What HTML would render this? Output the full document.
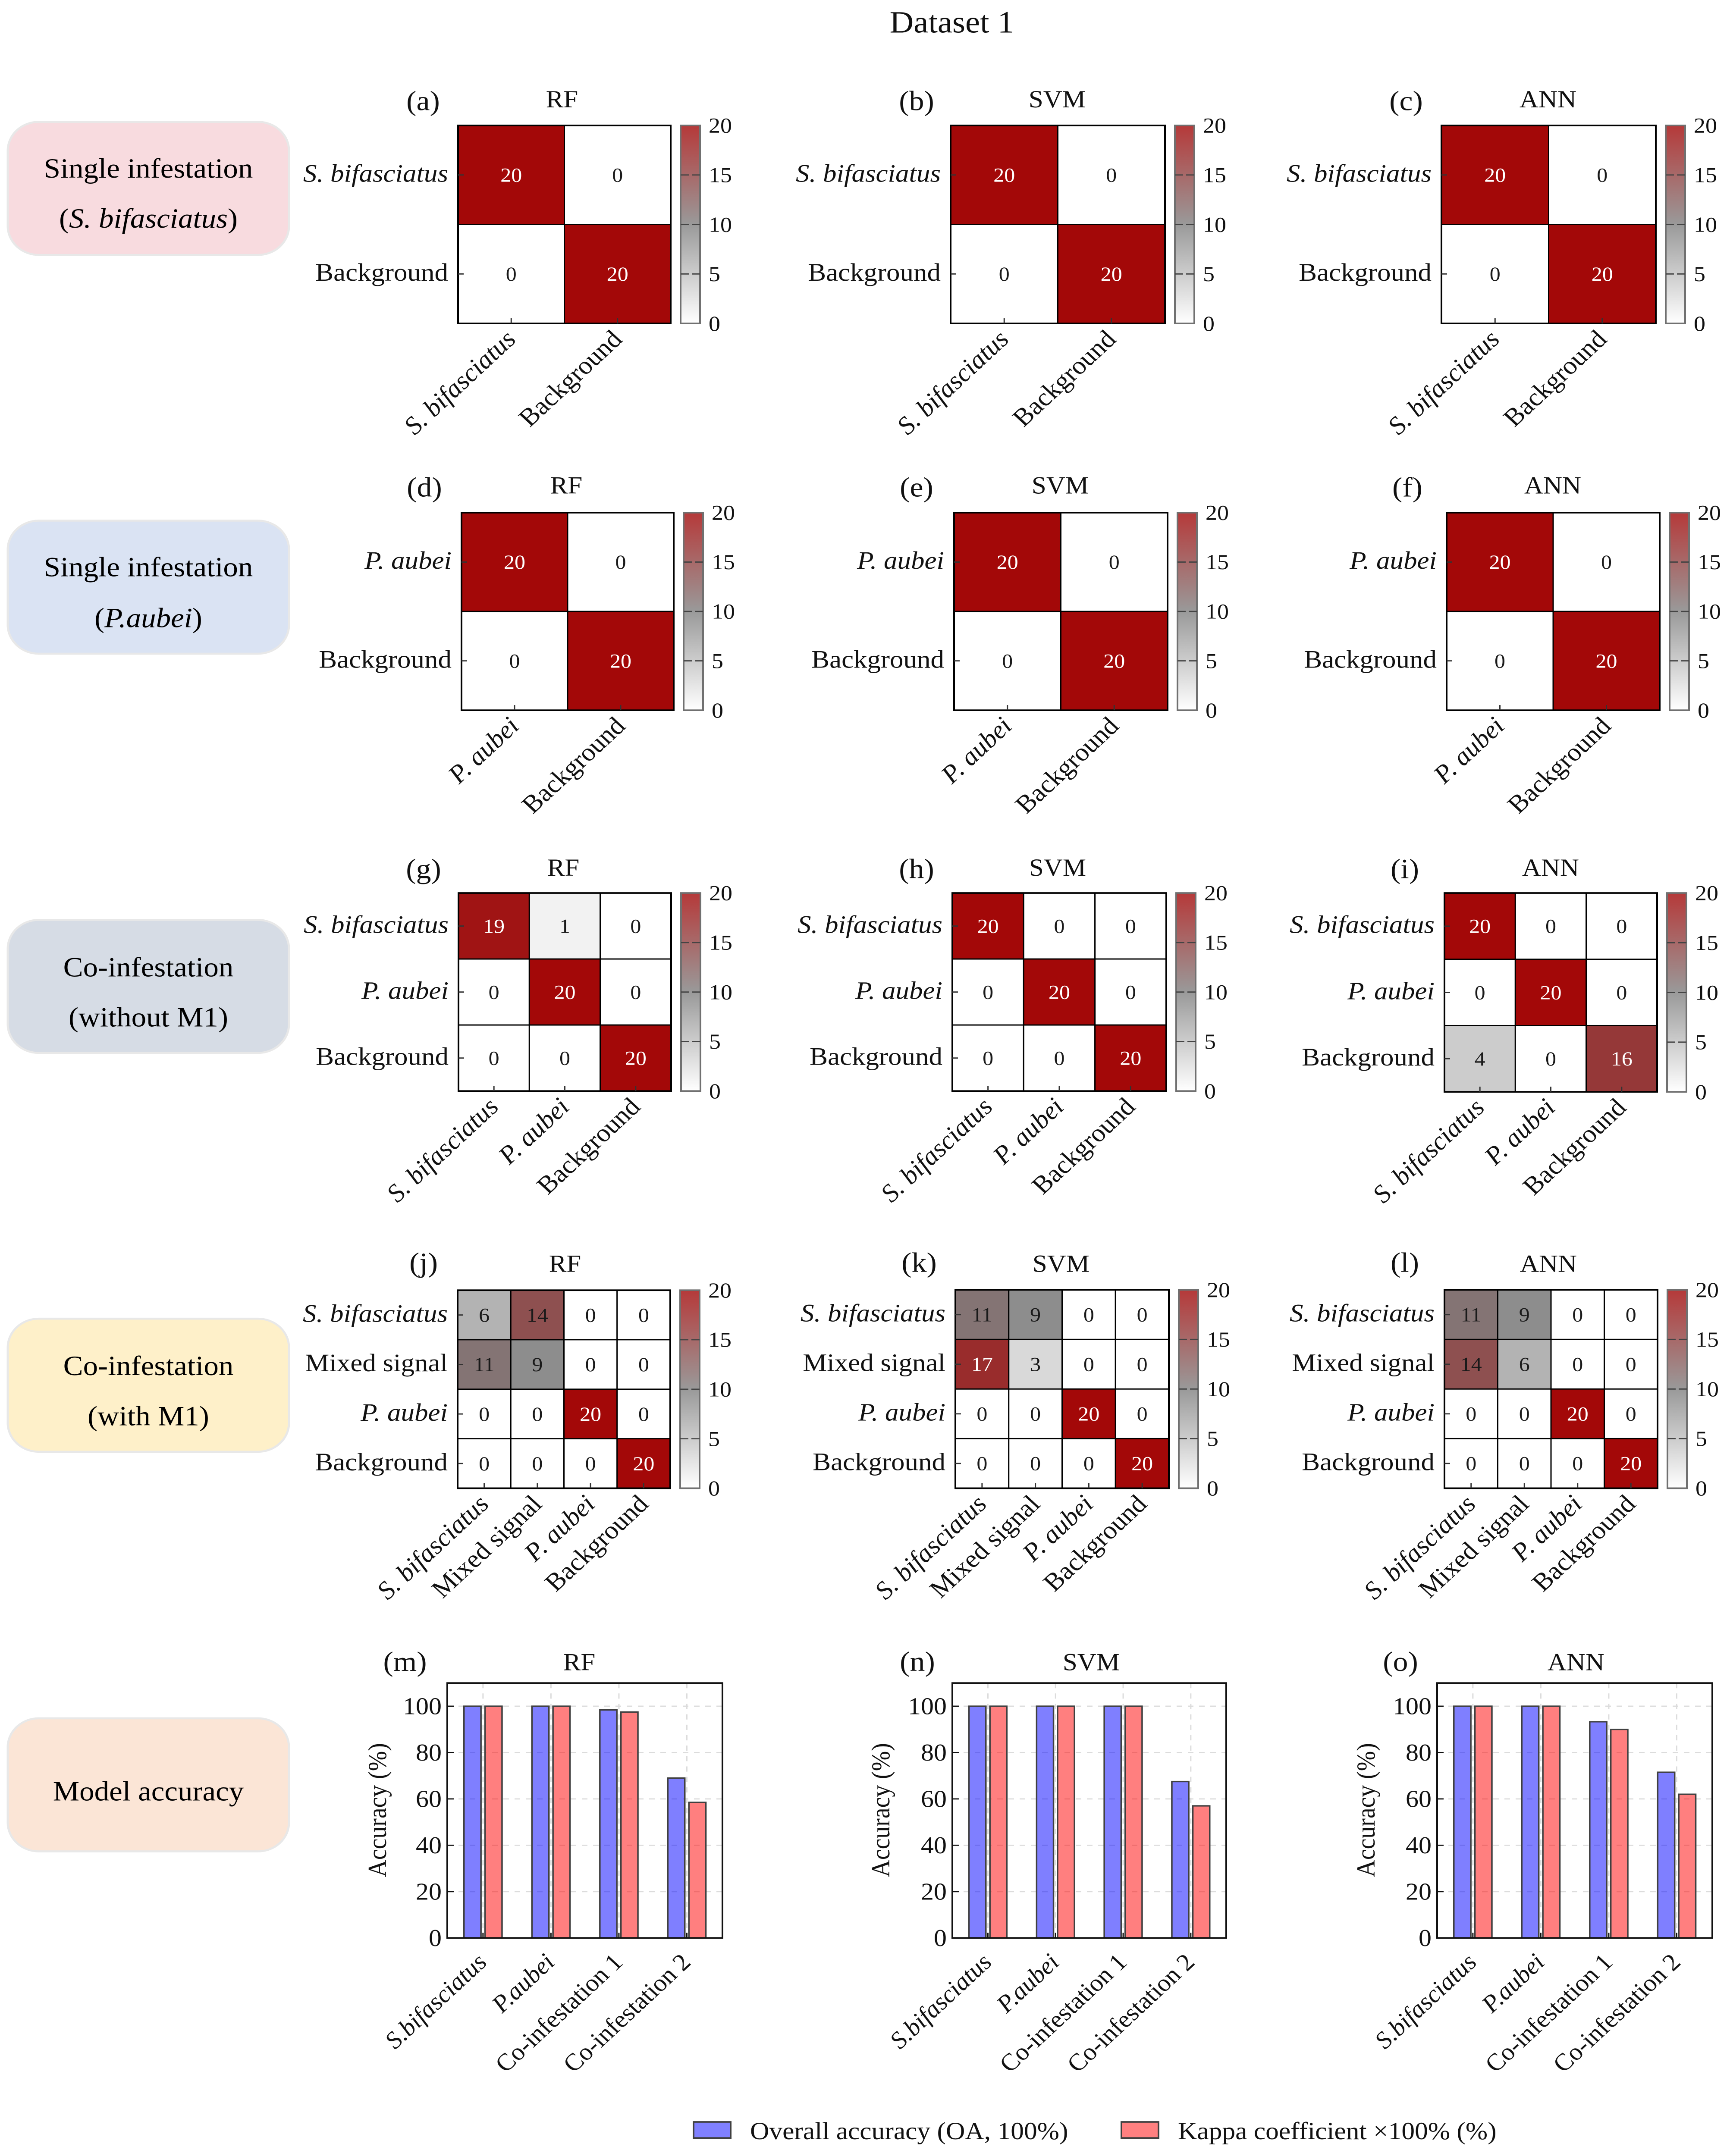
<!DOCTYPE html>
<html lang="en">
<head>
<meta charset="utf-8">
<title>Dataset 1 confusion matrices and model accuracy</title>
<style>
html,body{margin:0;padding:0;background:#fff;width:100%;height:100%;overflow:hidden;}
svg{display:block;width:100vw;height:100vh;font-family:"Liberation Serif",serif;}
.ptitle{font-size:61px;text-anchor:middle;fill:#111;}
.pletter{font-size:70px;text-anchor:middle;fill:#111;}
.pilltext{font-size:69px;text-anchor:middle;fill:#000;}
.ylab{font-size:60px;text-anchor:middle;fill:#111;}
.legtext{font-size:61.5px;fill:#111;}
</style>
</head>
<body>
<svg id="figure" xmlns="http://www.w3.org/2000/svg" viewBox="0 0 4011 5379" preserveAspectRatio="none">
<defs>
<linearGradient id="cbarGrad" x1="0" y1="0" x2="0" y2="1">
<stop offset="0" stop-color="#a30808"/>
<stop offset="0.5" stop-color="#808080"/>
<stop offset="1" stop-color="#ffffff"/>
</linearGradient>
</defs>
<rect x="0" y="0" width="4011" height="5379" fill="#fff"/>
<text x="2207" y="81" font-size="77" text-anchor="middle" fill="#111">Dataset 1</text>

<g>
<rect x="18" y="304" width="652" height="332" rx="72" fill="#f8dbdf" stroke="#e8e8e8" stroke-width="5"/>
<text class="pilltext" x="344" y="443">Single infestation</text>
<text class="pilltext" x="344" y="568">(<tspan font-style="italic">S. bifasciatus</tspan>)</text>
<rect x="18" y="1299" width="652" height="332" rx="72" fill="#dae3f3" stroke="#e8e8e8" stroke-width="5"/>
<text class="pilltext" x="344" y="1438">Single infestation</text>
<text class="pilltext" x="344" y="1565">(<tspan font-style="italic">P.aubei</tspan>)</text>
<rect x="18" y="2295" width="652" height="332" rx="72" fill="#d6dce5" stroke="#e8e8e8" stroke-width="5"/>
<text class="pilltext" x="344" y="2436">Co-infestation</text>
<text class="pilltext" x="344" y="2561">(without M1)</text>
<rect x="18" y="3290" width="652" height="332" rx="72" fill="#fef0c9" stroke="#e8e8e8" stroke-width="5"/>
<text class="pilltext" x="344" y="3431">Co-infestation</text>
<text class="pilltext" x="344" y="3556">(with M1)</text>
<rect x="18" y="4287" width="652" height="332" rx="72" fill="#fbe5d6" stroke="#e8e8e8" stroke-width="5"/>
<text class="pilltext" x="344" y="4492">Model accuracy</text>
</g>

<g>
<text class="pletter" x="981" y="275">(a)</text>
<text class="ptitle" x="1303" y="268">RF</text>
<text class="pletter" x="2125" y="275">(b)</text>
<text class="ptitle" x="2451" y="268">SVM</text>
<text class="pletter" x="3260" y="275">(c)</text>
<text class="ptitle" x="3589" y="268">ANN</text>
<text class="pletter" x="984" y="1239">(d)</text>
<text class="ptitle" x="1313" y="1231">RF</text>
<text class="pletter" x="2125" y="1239">(e)</text>
<text class="ptitle" x="2458" y="1231">SVM</text>
<text class="pletter" x="3263" y="1239">(f)</text>
<text class="ptitle" x="3600" y="1231">ANN</text>
<text class="pletter" x="982" y="2191">(g)</text>
<text class="ptitle" x="1306" y="2185">RF</text>
<text class="pletter" x="2125" y="2191">(h)</text>
<text class="ptitle" x="2452" y="2185">SVM</text>
<text class="pletter" x="3257" y="2191">(i)</text>
<text class="ptitle" x="3595" y="2185">ANN</text>
<text class="pletter" x="982" y="3173">(j)</text>
<text class="ptitle" x="1310" y="3173">RF</text>
<text class="pletter" x="2131" y="3173">(k)</text>
<text class="ptitle" x="2460" y="3173">SVM</text>
<text class="pletter" x="3257" y="3173">(l)</text>
<text class="ptitle" x="3590" y="3173">ANN</text>
<text class="pletter" x="939" y="4169">(m)</text>
<text class="ptitle" x="1343" y="4167">RF</text>
<text class="pletter" x="2127" y="4169">(n)</text>
<text class="ptitle" x="2530" y="4167">SVM</text>
<text class="pletter" x="3247" y="4169">(o)</text>
<text class="ptitle" x="3654" y="4167">ANN</text>
<text class="ylab" transform="translate(895,4516) rotate(-90)">Accuracy (%)</text>
<text class="ylab" transform="translate(2062,4516) rotate(-90)">Accuracy (%)</text>
<text class="ylab" transform="translate(3187,4516) rotate(-90)">Accuracy (%)</text>
</g>

<g id="plots"></g>

<g>
<rect x="1608" y="5294" width="86" height="40" fill="#8080ff" stroke="#404040" stroke-width="4"/>
<text class="legtext" x="1739" y="5337">Overall accuracy (OA, 100%)</text>
<rect x="2600" y="5294" width="86" height="40" fill="#ff8080" stroke="#404040" stroke-width="4"/>
<text class="legtext" x="2731" y="5337">Kappa coefficient ×100% (%)</text>
</g>
</svg>

<script>
// ---- confusion-matrix categories ----
const catsBif = ['S. bifasciatus', 'Background'];
const catsAub = ['P. aubei', 'Background'];
const catsCo = ['S. bifasciatus', 'P. aubei', 'Background'];
const catsMix = ['S. bifasciatus', 'Mixed signal', 'P. aubei', 'Background'];

// ---- confusion-matrix values ----
const matA = [[20, 0], [0, 20]];
const matB = [[20, 0], [0, 20]];
const matC = [[20, 0], [0, 20]];
const matD = [[20, 0], [0, 20]];
const matE = [[20, 0], [0, 20]];
const matF = [[20, 0], [0, 20]];
const matG = [[19, 1, 0], [0, 20, 0], [0, 0, 20]];
const matH = [[20, 0, 0], [0, 20, 0], [0, 0, 20]];
const matI = [[20, 0, 0], [0, 20, 0], [4, 0, 16]];
const matJ = [[6, 14, 0, 0], [11, 9, 0, 0], [0, 0, 20, 0], [0, 0, 0, 20]];
const matK = [[11, 9, 0, 0], [17, 3, 0, 0], [0, 0, 20, 0], [0, 0, 0, 20]];
const matL = [[11, 9, 0, 0], [14, 6, 0, 0], [0, 0, 20, 0], [0, 0, 0, 20]];

// ---- tick labels ----
const colorbarTicks = [0, 5, 10, 15, 20];
const accuracyTicks = [0, 20, 40, 60, 80, 100];
const barCats = ['S.bifasciatus', 'P.aubei', 'Co-infestation 1', 'Co-infestation 2'];

// ---- accuracy series ----
const oaRF = [100, 100, 98.4, 69];
const kappaRF = [100, 100, 97.5, 58.5];
const oaSVM = [100, 100, 100, 67.5];
const kappaSVM = [100, 100, 100, 57];
const oaANN = [100, 100, 93.3, 71.5];
const kappaANN = [100, 100, 90, 62];

// ---- panel wiring (layout kept apart from the data above) ----
const heatIds = ['a', 'b', 'c', 'd', 'e', 'f', 'g', 'h', 'i', 'j', 'k', 'l'];
const heatMats = [matA, matB, matC, matD, matE, matF, matG, matH, matI, matJ, matK, matL];
const heatCats = [catsBif, catsBif, catsBif, catsAub, catsAub, catsAub, catsCo, catsCo, catsCo, catsMix, catsMix, catsMix];
const heatFrames = [
  [1062, 1555, 313, 807], [2204, 2701, 313, 807], [3342, 3839, 313, 807],
  [1070, 1562, 1279, 1772], [2212, 2707, 1279, 1772], [3354, 3848, 1279, 1772],
  [1063, 1556, 2228, 2722], [2208, 2704, 2228, 2722], [3349, 3842, 2228, 2724],
  [1061, 1554, 3219, 3713], [2215, 2710, 3218, 3713], [3349, 3843, 3218, 3713]
];
const barIds = ['m', 'n', 'o'];
const barOA = [oaRF, oaSVM, oaANN];
const barKappa = [kappaRF, kappaSVM, kappaANN];
const barFrames = [[1037, 1675, 4199, 4835], [2208, 2843, 4199, 4835], [3332, 3970, 4199, 4835]];

const SVGNS = 'http://www.w3.org/2000/svg';
const plots = document.getElementById('plots');

function add(parent, tag, attrs, txt) {
  const el = document.createElementNS(SVGNS, tag);
  for (const k in attrs) el.setAttribute(k, attrs[k]);
  if (txt !== undefined) el.textContent = txt;
  parent.appendChild(el);
  return el;
}

function isSpecies(name) {
  return /^[SP]\./.test(name);
}

// colour scale: 0 white -> 10 grey -> 20 dark red
function cellColor(v) {
  const lo = [255, 255, 255], mid = [128, 128, 128], hi = [163, 8, 8];
  const t = Math.max(0, Math.min(1, v / 20));
  const a = t < 0.5 ? lo : mid, b = t < 0.5 ? mid : hi;
  const f = t < 0.5 ? t * 2 : (t - 0.5) * 2;
  const c = a.map((x, i) => Math.round(x + (b[i] - x) * f));
  return 'rgb(' + c.join(',') + ')';
}

function drawHeatmap(id, mat, cats, frame) {
  const [x0, x1, y0, y1] = frame;
  const n = cats.length;
  const xBand = i => x0 + (x1 - x0) * i / n;
  const yBand = i => y0 + (y1 - y0) * i / n;
  const g = add(plots, 'g', {});
  
  

  mat.forEach((row, r) => row.forEach((v, c) => {
    const cell = add(g, 'rect', {
      x: xBand(c), y: yBand(r), width: xBand(c + 1) - xBand(c), height: yBand(r + 1) - yBand(r),
      fill: cellColor(v), stroke: '#000', 'stroke-width': 3
    });
    
    
    const label = add(g, 'text', {
      x: (xBand(c) + xBand(c + 1)) / 2, y: (yBand(r) + yBand(r + 1)) / 2 + 17,
      'font-size': 50, 'text-anchor': 'middle', fill: v >= 15 ? '#fff' : '#1a1a1a'
    }, String(v));
    
    
  }));

  const border = add(g, 'rect', { x: x0, y: y0, width: x1 - x0, height: y1 - y0, fill: 'none', stroke: '#000', 'stroke-width': 4 });
  
  

  cats.forEach((name, i) => {
    const cy = (yBand(i) + yBand(i + 1)) / 2;
    const cx = (xBand(i) + xBand(i + 1)) / 2;
    const yt = add(g, 'line', { x1: x0, x2: x0 + 13, y1: cy, y2: cy, stroke: '#333', 'stroke-width': 3 });
    
    
    const xt = add(g, 'line', { x1: cx, x2: cx, y1: y1, y2: y1 - 13, stroke: '#333', 'stroke-width': 3 });
    
    

    const yl = add(g, 'text', {
      x: x0 - 23, y: cy + 17, 'font-size': 63, 'text-anchor': 'end', fill: '#111',
      'font-style': isSpecies(name) ? 'italic' : 'normal'
    }, name);
    
    

    const ax = cx + 14, ay = y1 + 43;
    const xl = add(g, 'text', {
      transform: 'translate(' + ax + ',' + ay + ') rotate(-45)', 'font-size': 63, 'text-anchor': 'end', fill: '#111',
      'font-style': isSpecies(name) ? 'italic' : 'normal'
    }, name);
    
    
  });

  // colour bar
  const bx0 = x1 + 23, bw = 45;
  const yBar = v => y1 - (y1 - y0) * v / 20;
  const grad = add(g, 'rect', { x: bx0, y: y0, width: bw, height: y1 - y0, fill: 'url(#cbarGrad)', 'fill-opacity': 0.8 });
  
  
  const bframe = add(g, 'rect', { x: bx0, y: y0, width: bw, height: y1 - y0, fill: 'none', stroke: '#707070', 'stroke-width': 4 });
  
  
  colorbarTicks.forEach(v => {
    if (v > 0 && v < 20) {
      const t = add(g, 'line', { x1: bx0, x2: bx0 + bw, y1: yBar(v), y2: yBar(v), stroke: '#444', 'stroke-width': 3, 'stroke-dasharray': '19 7' });
      
      
    }
    const l = add(g, 'text', { x: bx0 + bw + 20, y: yBar(v) + 18, 'font-size': 54, fill: '#111' }, String(v));
    
    
  });
}

function drawBars(id, oa, kappa, frame) {
  const [x0, x1, y0, y1] = frame;
  const w = x1 - x0;
  const xCat = i => x0 + w * (i + 0.526) / 4.05;
  const yVal = v => y1 - (y1 - y0) * v / 110;
  const unit = w / 4.05;
  const g = add(plots, 'g', {});
  
  

  accuracyTicks.forEach(v => {
    if (v > 0) {
      const gl = add(g, 'line', { x1: x0, x2: x1, y1: yVal(v), y2: yVal(v), stroke: '#dcdcdc', 'stroke-width': 3, 'stroke-dasharray': '13 13' });
      
      
    }
  });
  barCats.forEach((name, i) => {
    const gl = add(g, 'line', { x1: xCat(i), x2: xCat(i), y1: y0, y2: y1, stroke: '#dcdcdc', 'stroke-width': 3, 'stroke-dasharray': '13 13' });
    
    
  });

  const bw = 0.25 * unit, off = 0.155 * unit;
  oa.forEach((v, i) => {
    const b = add(g, 'rect', { x: xCat(i) - off - bw / 2, y: yVal(v), width: bw, height: yVal(0) - yVal(v), fill: '#0000ff', 'fill-opacity': 0.5, stroke: '#404040', 'stroke-width': 3.5 });
    
    
  });
  kappa.forEach((v, i) => {
    const b = add(g, 'rect', { x: xCat(i) + off - bw / 2, y: yVal(v), width: bw, height: yVal(0) - yVal(v), fill: '#ff0000', 'fill-opacity': 0.5, stroke: '#404040', 'stroke-width': 3.5 });
    
    
  });

  const fr = add(g, 'rect', { x: x0, y: y0, width: w, height: y1 - y0, fill: 'none', stroke: '#111', 'stroke-width': 4 });
  
  

  accuracyTicks.forEach(v => {
    const t = add(g, 'line', { x1: x0, x2: x0 + 15, y1: yVal(v), y2: yVal(v), stroke: '#111', 'stroke-width': 3 });
    
    
    const l = add(g, 'text', { x: x0 - 13, y: yVal(v) + 20, 'font-size': 60, 'text-anchor': 'end', fill: '#111' }, String(v));
    
    
  });
  barCats.forEach((name, i) => {
    const t = add(g, 'line', { x1: xCat(i), x2: xCat(i), y1: y1, y2: y1 - 13, stroke: '#111', 'stroke-width': 3 });
    
    
    const ax = xCat(i) + 12, ay = y1 + 64;
    const l = add(g, 'text', {
      transform: 'translate(' + ax + ',' + ay + ') rotate(-45)', 'font-size': 60, 'text-anchor': 'end', fill: '#111',
      'font-style': isSpecies(name) ? 'italic' : 'normal'
    }, name);
    
    
  });
}

heatIds.forEach((id, i) => drawHeatmap(id, heatMats[i], heatCats[i], heatFrames[i]));
barIds.forEach((id, i) => drawBars(id, barOA[i], barKappa[i], barFrames[i]));
</script>
</body>
</html>
